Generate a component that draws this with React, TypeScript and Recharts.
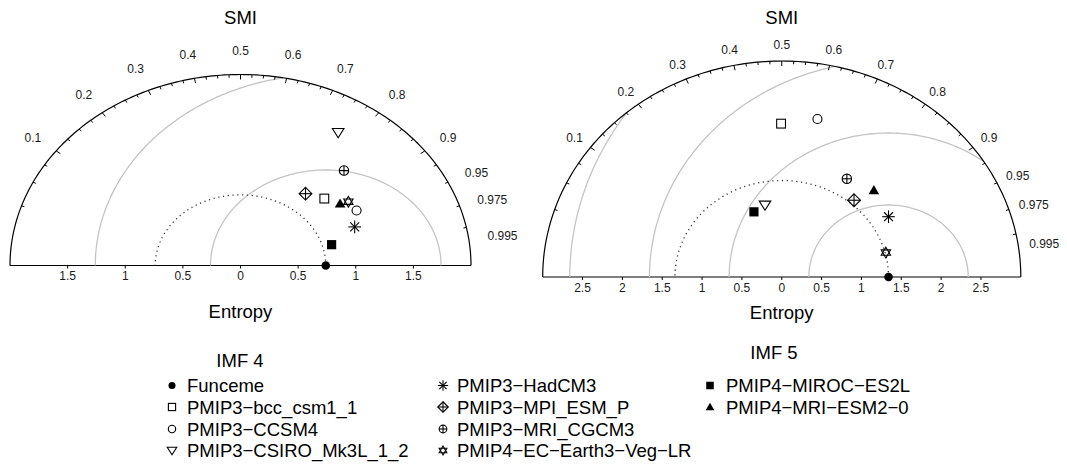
import React from 'react';
import { ScatterChart, Scatter, XAxis, YAxis, Label } from 'recharts';

const FONT = '"Liberation Sans", Arial, Helvetica, sans-serif';

// ---------- data ----------
const MODELS = [
  'Funceme',
  'PMIP3−bcc_csm1_1',
  'PMIP3−CCSM4',
  'PMIP3−CSIRO_Mk3L_1_2',
  'PMIP3−HadCM3',
  'PMIP3−MPI_ESM_P',
  'PMIP3−MRI_CGCM3',
  'PMIP4−EC−Earth3−Veg−LR',
  'PMIP4−MIROC−ES2L',
  'PMIP4−MRI−ESM2−0',
];
const MARKERS = ['dot', 'square', 'circle', 'triDown', 'star', 'diamondPlus', 'circlePlus', 'hexagram', 'squareFilled', 'triUp'];

// IMF 4: standard deviation (Entropy) and SMI correlation
const imf4Sd = [0.74, 1.01, 1.16, 1.63, 1.07, 0.94, 1.34, 1.15, 0.82, 1.08];
const imf4Corr = [1, 0.86, 0.934, 0.76, 0.963, 0.8, 0.835, 0.907, 0.982, 0.9];
// IMF 5
const imf5Sd = [1.34, 2.13, 2.24, 1.02, 1.58, 1.4, 1.59, 1.35, 0.97, 1.67];
const imf5Corr = [1, 0.498, 0.6, 0.397, 0.924, 0.824, 0.757, 0.984, 0.32, 0.846];

const CORR_LABELS = [0.1, 0.2, 0.3, 0.4, 0.5, 0.6, 0.7, 0.8, 0.9, 0.95, 0.975, 0.995];
const imf4XTicks = [-1.5, -1, -0.5, 0, 0.5, 1, 1.5];
const imf5XTicks = [-2.5, -2, -1.5, -1, -0.5, 0, 0.5, 1, 1.5, 2, 2.5];
const imf4RmsLevels = [1, 2];
const imf5RmsLevels = [1, 2, 3, 4];
const PANEL_TITLES = ['IMF 4', 'IMF 5'];

// ---------- geometry helpers ----------
const corrAngle = (r: number) => Math.acos(Math.max(-1, Math.min(1, 2 * r - 1)));
const toXY = (sd: number, r: number) => {
  const t = corrAngle(r);
  return { x: sd * Math.cos(t), y: sd * Math.sin(t) };
};
const clampPt = (p: { x: number; y: number }, R: number) => ({
  x: Math.max(-R, Math.min(R, p.x)),
  y: Math.max(0, Math.min(R, p.y)),
});
function arcPoints(x0: number, rho: number, phi0: number, phi1: number, n: number, R: number) {
  const pts: { x: number; y: number }[] = [];
  for (let i = 0; i <= n; i++) {
    const f = phi0 + ((phi1 - phi0) * i) / n;
    pts.push(clampPt({ x: x0 + rho * Math.cos(f), y: rho * Math.sin(f) }, R));
  }
  return pts;
}
function rmsArc(x0: number, rho: number, R: number) {
  let phi0 = 0;
  let phi1 = Math.PI;
  if (x0 + rho > R || x0 - rho < -R) {
    const xi = (R * R - rho * rho + x0 * x0) / (2 * x0);
    const yi = Math.sqrt(Math.max(0, R * R - xi * xi));
    const ang = Math.atan2(yi, xi - x0);
    if (x0 + rho > R) phi0 = ang;
    else phi1 = ang;
  }
  return arcPoints(x0, rho, phi0, phi1, 140, R);
}

// ---------- markers ----------
function Marker({ kind, cx, cy, s = 1 }: { kind: string; cx: number; cy: number; s?: number }) {
  const st = { fill: 'none', stroke: '#000', strokeWidth: 1.1 };
  switch (kind) {
    case 'dot':
      return <circle cx={cx} cy={cy} r={4.3 * s} fill="#000" />;
    case 'square': {
      const h = 4.4 * s;
      return <rect x={cx - h} y={cy - h} width={2 * h} height={2 * h} {...st} />;
    }
    case 'squareFilled': {
      const h = 4.6 * s;
      return <rect x={cx - h} y={cy - h} width={2 * h} height={2 * h} fill="#000" />;
    }
    case 'circle':
      return <circle cx={cx} cy={cy} r={4.5 * s} {...st} />;
    case 'triDown': {
      const w = 5.8 * s;
      const t = 4.0 * s;
      const b = 5.2 * s;
      return <polygon points={`${cx - w},${cy - t} ${cx + w},${cy - t} ${cx},${cy + b}`} {...st} />;
    }
    case 'triUp': {
      const w = 5.3 * s;
      const t = 5.2 * s;
      const b = 4.0 * s;
      return <polygon points={`${cx - w},${cy + b} ${cx + w},${cy + b} ${cx},${cy - t}`} fill="#000" />;
    }
    case 'star': {
      const r = 6.3 * s;
      const d = r * Math.SQRT1_2;
      return (
        <g stroke="#000" strokeWidth={1.1}>
          <line x1={cx - r} y1={cy} x2={cx + r} y2={cy} />
          <line x1={cx} y1={cy - r} x2={cx} y2={cy + r} />
          <line x1={cx - d} y1={cy - d} x2={cx + d} y2={cy + d} />
          <line x1={cx - d} y1={cy + d} x2={cx + d} y2={cy - d} />
        </g>
      );
    }
    case 'diamondPlus': {
      const r = 6.4 * s;
      return (
        <g {...st}>
          <polygon points={`${cx},${cy - r} ${cx + r},${cy} ${cx},${cy + r} ${cx - r},${cy}`} />
          <line x1={cx - r} y1={cy} x2={cx + r} y2={cy} />
          <line x1={cx} y1={cy - r} x2={cx} y2={cy + r} />
        </g>
      );
    }
    case 'circlePlus': {
      const r = 4.7 * s;
      return (
        <g {...st}>
          <circle cx={cx} cy={cy} r={r} />
          <line x1={cx - r} y1={cy} x2={cx + r} y2={cy} />
          <line x1={cx} y1={cy - r} x2={cx} y2={cy + r} />
        </g>
      );
    }
    case 'hexagram': {
      const r = 5.4 * s;
      const p = (a: number) => `${cx + r * Math.cos(a)},${cy + r * Math.sin(a)}`;
      const up = [-90, 30, 150].map((d) => p((d * Math.PI) / 180)).join(' ');
      const dn = [90, -30, -150].map((d) => p((d * Math.PI) / 180)).join(' ');
      return (
        <g {...st}>
          <polygon points={up} />
          <polygon points={dn} />
        </g>
      );
    }
    default:
      return <g />;
  }
}

const Empty = () => <g />;

// ---------- panel ----------
type PanelCfg = {
  R: number;
  sd: number[];
  corr: number[];
  rms: number[];
  xTicks: number[];
  left: number;
  width: number;
  height: number;
  margin: { top: number; right: number; bottom: number; left: number };
  labelGap: number;
  entropyOffset: number;
};

const AXIS_H = 60;

function TaylorPanel({ cfg }: { cfg: PanelCfg }) {
  const { R, sd, corr, rms, xTicks, width, height, margin, labelGap } = cfg;
  const plotW = width - margin.left - margin.right;
  const plotH = height - margin.top - margin.bottom - AXIS_H;
  const sx = plotW / (2 * R);
  const sy = plotH / R;

  const refSd = sd[0];
  const outer = arcPoints(0, R, 0, Math.PI, 180, R);
  const dotted = arcPoints(0, refSd, 0, Math.PI, 120, R);
  const rmsArcs = rms.map((rho) => rmsArc(refSd, rho, R));

  const tickVals: { r: number; big: boolean }[] = [];
  for (let k = 1; k < 40; k++) {
    const r = Math.round(k * 25) / 1000;
    tickVals.push({ r, big: k % 4 === 0 });
  }
  tickVals.push({ r: 0.99, big: false });
  const ticks = tickVals.map((t) => ({ ...clampPt(toXY(R, t.r), R), big: t.big }));
  const labels = CORR_LABELS.map((c) => ({ ...clampPt(toXY(R, c), R), label: String(c) }));

  const unit = (payload: any) => {
    const vx = payload.x * sx;
    const vy = -payload.y * sy;
    const len = Math.hypot(vx, vy) || 1;
    return [vx / len, vy / len];
  };

  const tickShape = (props: any) => {
    const { cx, cy, payload } = props;
    const [ux, uy] = unit(payload);
    const L = payload.big ? 5 : 3;
    return <line x1={cx} y1={cy} x2={cx - ux * L} y2={cy - uy * L} stroke="#000" strokeWidth={1} />;
  };

  const labelShape = (props: any) => {
    const { cx, cy, payload } = props;
    const [ux, uy] = unit(payload);
    const txt: string = payload.label;
    const hw = (txt.length * 6.67 - 3.33) / 2;
    const tx = cx + ux * (labelGap + hw);
    const ty = cy + uy * (labelGap + 5);
    return (
      <text x={tx} y={ty} textAnchor="middle" dominantBaseline="central" fontSize={12} fontFamily={FONT} fill="#1a1a1a">
        {txt}
      </text>
    );
  };

  return (
    <ScatterChart width={width} height={height} margin={margin}>
      <XAxis
        type="number"
        dataKey="x"
        domain={[-R, R]}
        ticks={xTicks}
        interval={0}
        tickFormatter={(v: number) => String(Math.abs(v))}
        tickSize={3}
        tickMargin={3}
        height={AXIS_H}
        axisLine={{ stroke: '#000', strokeWidth: 1.2 }}
        tickLine={{ stroke: '#000' }}
        tick={{ fontSize: 12, fill: '#1a1a1a', fontFamily: FONT }}
      >
        <Label value="Entropy" position="insideBottom" offset={cfg.entropyOffset} fontSize={18.5} fill="#000" fontFamily={FONT} />
      </XAxis>
      <YAxis type="number" dataKey="y" domain={[0, R]} hide />
      {rmsArcs.map((pts, i) => (
        <Scatter
          key={'rms' + i}
          data={pts}
          shape={Empty}
          line={{ stroke: '#c4c4c4', strokeWidth: 1.3 }}
          isAnimationActive={false}
        />
      ))}
      <Scatter
        data={dotted}
        shape={Empty}
        line={{ stroke: '#333', strokeWidth: 1.3, strokeDasharray: '1.2 3.6' }}
        isAnimationActive={false}
      />
      <Scatter data={outer} shape={Empty} line={{ stroke: '#000', strokeWidth: 1.2 }} isAnimationActive={false} />
      <Scatter data={ticks} shape={tickShape} isAnimationActive={false} />
      <Scatter data={labels} shape={labelShape} isAnimationActive={false} />
      {MODELS.map((name, i) => {
        const p = clampPt(toXY(sd[i], corr[i]), R);
        return (
          <Scatter
            key={name}
            name={name}
            data={[p]}
            shape={(props: any) => <Marker kind={MARKERS[i]} cx={props.cx} cy={props.cy} />}
            isAnimationActive={false}
          />
        );
      })}
    </ScatterChart>
  );
}

const leftCfg: PanelCfg = {
  R: 2,
  sd: imf4Sd,
  corr: imf4Corr,
  rms: imf4RmsLevels,
  xTicks: imf4XTicks,
  left: 0,
  width: 535,
  height: 340,
  margin: { top: 74.5, right: 64, bottom: 14.5, left: 10 },
  labelGap: 19,
  entropyOffset: 7.5,
};

const rightCfg: PanelCfg = {
  R: 3,
  sd: imf5Sd,
  corr: imf5Corr,
  rms: imf5RmsLevels,
  xTicks: imf5XTicks,
  left: 535,
  width: 532,
  height: 340,
  margin: { top: 61, right: 46.2, bottom: 3, left: 7.7 },
  labelGap: 11,
  entropyOffset: 18,
};

function LegendBlock() {
  const colMarkX = [172, 443, 710];
  const colTextX = [187, 457, 726];
  const rowY = [385.5, 407, 429, 450.5];
  const items = MODELS.map((name, i) => ({ name, kind: MARKERS[i], col: Math.floor(i / 4), row: i % 4 }));
  return (
    <svg width={1067} height={124} style={{ position: 'absolute', left: 0, top: 340 }}>
      <text x={240} y={20} textAnchor="middle" dominantBaseline="central" fontSize={18.5} fontFamily={FONT} fill="#000">
        {PANEL_TITLES[0]}
      </text>
      <text x={774} y={12} textAnchor="middle" dominantBaseline="central" fontSize={18.5} fontFamily={FONT} fill="#000">
        {PANEL_TITLES[1]}
      </text>
      {items.map((it) => {
        const y = rowY[it.row] - 340;
        return (
          <g key={it.name}>
            <Marker kind={it.kind} cx={colMarkX[it.col]} cy={y} s={0.82} />
            <text x={colTextX[it.col]} y={y} dominantBaseline="central" fontSize={18.5} fontFamily={FONT} fill="#000">
              {it.name}
            </text>
          </g>
        );
      })}
    </svg>
  );
}

export default function App() {
  const panels = [leftCfg, rightCfg];
  return (
    <div style={{ position: 'absolute', left: 0, top: 0, width: 1067, height: 464, background: '#fff', fontFamily: FONT }}>
      {panels.map((cfg, i) => {
        const cxPix = cfg.left + cfg.margin.left + (cfg.width - cfg.margin.left - cfg.margin.right) / 2;
        return (
          <React.Fragment key={i}>
            <div style={{ position: 'absolute', left: cfg.left, top: 0 }}>
              <TaylorPanel cfg={cfg} />
            </div>
            <div
              style={{
                position: 'absolute',
                left: cxPix - 60,
                width: 120,
                top: 7,
                textAlign: 'center',
                fontSize: 18.5,
                lineHeight: '22px',
                color: '#000',
              }}
            >
              SMI
            </div>
          </React.Fragment>
        );
      })}
      <LegendBlock />
    </div>
  );
}
